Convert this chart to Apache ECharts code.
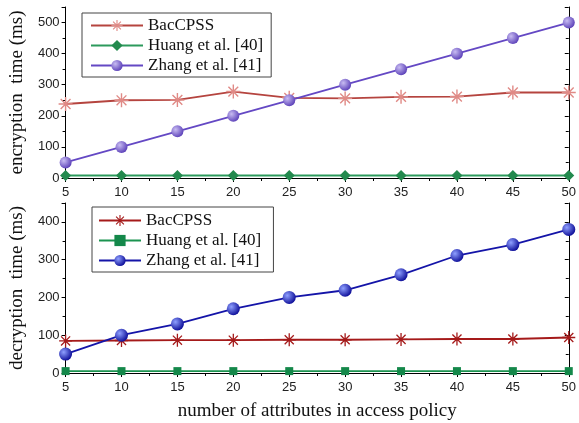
<!DOCTYPE html>
<html><head><meta charset="utf-8">
<script src="https://cdn.jsdelivr.net/npm/echarts@6/dist/echarts.min.js"></script>
<style>html,body{margin:0;padding:0;background:#fff}#c{width:579px;height:423px}</style>
</head><body><div id="c"></div>
<script>
const xValues = [5, 10, 15, 20, 25, 30, 35, 40, 45, 50];
const encBacCPSS = [238, 250, 251, 278, 258, 256, 261, 262, 275, 275];
const encHuang = [8, 8, 8, 8, 8, 8, 8, 8, 8, 8];
const encZhang = [50, 100, 150, 200, 250, 300, 350, 400, 450, 500];
const decBacCPSS = [85, 86, 87, 87, 88, 88, 89, 90, 90, 94];
const decHuang = [5, 5, 5, 5, 5, 5, 5, 5, 5, 5];
const decZhang = [50, 100, 130, 170, 200, 219, 260, 311, 340, 380];
const seriesNames = ['BacCPSS', 'Huang et al. [40]', 'Zhang et al. [41]'];
const xTitle = 'number of attributes in access policy';
const yTitles = ['encryption  time (ms)', 'decryption  time (ms)'];

const star = 'path://M-1,-10L1,-10L1,10L-1,10Z M-10,-1L10,-1L10,1L-10,1Z M-6.3,-7.7L7.7,6.3L6.3,7.7L-7.7,-6.3Z M-6.3,7.7L-7.7,6.3L6.3,-7.7L7.7,-6.3Z';
const pairs = a => a.map((v, i) => [xValues[i], v]);
const ball = (c1, c2) => ({type: 'radial', x: 0.35, y: 0.35, r: 0.7, colorStops: [{offset: 0, color: c1}, {offset: 1, color: c2}]});

const chart = echarts.init(document.getElementById('c'));
const axisLabel = {fontFamily: 'Liberation Sans', fontSize: 13, color: '#222'};
const lineStyleAxis = {color: '#000', width: 1};
function xAxis(gi) {
  return [{
    type: 'value', gridIndex: gi, min: 5, max: 50, interval: 5,
    axisLine: {show: true, onZero: false, lineStyle: lineStyleAxis},
    axisTick: {show: true, inside: false, length: 4, lineStyle: lineStyleAxis},
    minorTick: {show: true, splitNumber: 2, length: 3, lineStyle: lineStyleAxis},
    axisLabel: Object.assign({show: true, margin: 8}, axisLabel),
    splitLine: {show: false},
    name: gi === 1 ? xTitle : '', nameLocation: 'middle', nameGap: 29,
    nameTextStyle: {fontFamily: 'Liberation Serif', fontSize: 19, color: '#111'}
  }, {
    type: 'value', gridIndex: gi, position: 'top', min: 5, max: 50, interval: 5,
    axisLine: {show: true, lineStyle: lineStyleAxis},
    axisTick: {show: true, inside: true, length: 4, lineStyle: lineStyleAxis},
    minorTick: {show: true, splitNumber: 2, length: 3, lineStyle: lineStyleAxis},
    axisLabel: {show: false}, splitLine: {show: false}
  }];
}
function yAxis(gi, max, title) {
  return [{
    type: 'value', gridIndex: gi, min: 0, max: max, interval: 100,
    axisLine: {show: true, lineStyle: lineStyleAxis},
    axisTick: {show: true, inside: false, length: 4, lineStyle: lineStyleAxis},
    minorTick: {show: true, splitNumber: 2, length: 3, lineStyle: lineStyleAxis},
    axisLabel: Object.assign({margin: 6, showMaxLabel: false}, axisLabel),
    splitLine: {show: false},
    name: title, nameLocation: 'middle', nameGap: 36,
    nameTextStyle: {fontFamily: 'Liberation Serif', fontSize: 19, color: '#111'}
  }, {
    type: 'value', gridIndex: gi, position: 'right', min: 0, max: max, interval: 100,
    axisLine: {show: true, lineStyle: lineStyleAxis},
    axisTick: {show: true, inside: true, length: 4, lineStyle: lineStyleAxis},
    minorTick: {show: true, splitNumber: 2, length: 3, lineStyle: lineStyleAxis},
    axisLabel: {show: false}, splitLine: {show: false}
  }];
}
function s(name, data, gi, color, symbol, size, markerColor, z) {
  return {
    name: name, type: 'line', xAxisIndex: gi * 2, yAxisIndex: gi * 2, data: pairs(data),
    symbol: symbol, symbolSize: size, showSymbol: true, z: z || 2,
    lineStyle: {color: color, width: 1.8},
    itemStyle: {color: markerColor || color, borderWidth: 0},
    animation: false
  };
}
const legendText = {fontFamily: 'Liberation Serif', fontSize: 17, color: '#111'};
chart.setOption({
  animation: false,
  grid: [
    {left: 62, right: 10, top: 7, height: 171},
    {left: 62, right: 10, top: 203, height: 170}
  ],
  xAxis: [...xAxis(0), ...xAxis(1)],
  yAxis: [...yAxis(0, 550, yTitles[0]), ...yAxis(1, 450, yTitles[1])],
  legend: [
    {left: 82, top: 13, width: 191, orient: 'vertical', itemGap: 3, itemWidth: 52, itemHeight: 14,
      padding: [4, 8, 3, 8], borderColor: '#444', borderWidth: 1,
      textStyle: legendText,
      data: [
        {name: seriesNames[0]}, {name: seriesNames[1]}, {name: seriesNames[2]}
      ]},
    {left: 92, top: 207, width: 173, orient: 'vertical', itemGap: 3, itemWidth: 42, itemHeight: 14,
      padding: [5, 8, 3, 6], borderColor: '#444', borderWidth: 1,
      textStyle: legendText,
      data: [
        {name: seriesNames[0] + ' '}, {name: seriesNames[1] + ' '}, {name: seriesNames[2] + ' '}
      ]}
  ],
  series: [
    s(seriesNames[0], encBacCPSS, 0, '#b5443f', star, 14, '#e08a86', 3),
    s(seriesNames[1], encHuang, 0, '#2c9a5c', 'diamond', 11, '#238a4e', 2),
    s(seriesNames[2], encZhang, 0, '#6448c4', 'circle', 12, ball('#c8bcf2', '#5a3fb8'), 4),
    s(seriesNames[0] + ' ', decBacCPSS, 1, '#a51a1a', star, 13, '#a51a1a', 3),
    s(seriesNames[1] + ' ', decHuang, 1, '#1b9350', 'rect', 8, '#14884a', 2),
    s(seriesNames[2] + ' ', decZhang, 1, '#1414a8', 'circle', 13, ball('#8fa0ff', '#0a0a96'), 4)
  ]
});
</script></body></html>
